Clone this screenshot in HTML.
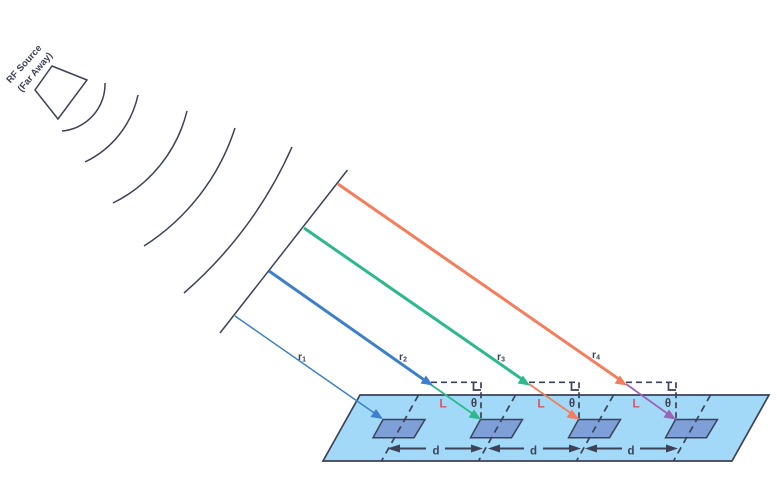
<!DOCTYPE html>
<html>
<head>
<meta charset="utf-8">
<style>
html,body{margin:0;padding:0;background:#fff;width:777px;height:478px;overflow:hidden}
svg{display:block}
text{font-family:"Liberation Sans",sans-serif;fill:#3d4256;font-weight:700}
</style>
</head>
<body>
<svg width="777" height="478" viewBox="0 0 777 478" xmlns="http://www.w3.org/2000/svg">
<!-- plane -->
<polygon points="360,395 769,395 732,461 323,461" fill="#a2d9f8" stroke="#3d4256" stroke-width="1.700"/>
<!-- patches -->
<g fill="#7f9fd9" stroke="#3d4256" stroke-width="1.500">
<polygon points="383,419.500 425,419.500 414,437.700 373,437.700"/>
<polygon points="480.500,419.500 522.500,419.500 511.500,437.700 470.500,437.700"/>
<polygon points="578.500,419.500 620.500,419.500 609.500,437.700 568.500,437.700"/>
<polygon points="675.500,419.500 717.500,419.500 706.500,437.700 665.500,437.700"/>
</g>
<!-- dashed slanted -->
<g stroke="#3d4256" stroke-width="1.700" stroke-dasharray="7 5" fill="none">
<line x1="418.500" y1="395" x2="381.500" y2="461"/>
<line x1="515.500" y1="395" x2="478.500" y2="461"/>
<line x1="613.500" y1="395" x2="576.500" y2="461"/>
<line x1="710.500" y1="395" x2="673.500" y2="461"/>
</g>
<!-- dashed right angles -->
<g stroke="#3d4256" stroke-width="1.700" fill="none">
<g stroke-dasharray="6 4">
<path d="M431,382.300H481V419"/>
<path d="M529,382.300H579V419"/>
<path d="M626,382.300H676V419"/>
</g>
<path d="M473.500,382.300V390H481"/>
<path d="M571.500,382.300V390H579"/>
<path d="M668.500,382.300V390H676"/>
</g>
<!-- source -->
<polygon points="52,66 87,80 58,119 35,90" fill="none" stroke="#3d4256" stroke-width="1.500"/>
<g transform="translate(24,64) rotate(-48)"><text x="0" y="3" font-size="9.500" text-anchor="middle">RF Source</text></g>
<g transform="translate(35,72) rotate(-50)"><text x="0" y="3" font-size="9.500" text-anchor="middle">(Far Away)</text></g>
<!-- arcs -->
<g fill="none" stroke="#3d4256" stroke-width="1.500">
<path d="M105,83A47,47 0 0 1 62,131"/>
<path d="M138,95A97,97 0 0 1 85,162"/>
<path d="M187,111A140,140 0 0 1 113,203"/>
<path d="M235,128A220,220 0 0 1 144,246"/>
<path d="M292,147A420,420 0 0 1 184,293"/>
<line x1="220" y1="333" x2="347.500" y2="170"/>
</g>
<!-- rays -->
<g fill="none">
<line x1="235" y1="316" x2="375" y2="413.500" stroke="#3c80cc" stroke-width="1.500"/>
<line x1="269" y1="271" x2="424" y2="379.800" stroke="#3c80cc" stroke-width="3"/>
<line x1="304" y1="228" x2="523" y2="379.800" stroke="#2cb98b" stroke-width="3"/>
<line x1="338" y1="184" x2="620" y2="379.800" stroke="#f67c5c" stroke-width="3"/>
<line x1="430" y1="384" x2="473" y2="414" stroke="#2cb98b" stroke-width="1.800"/>
<line x1="529" y1="384" x2="572" y2="414" stroke="#f67c5c" stroke-width="1.800"/>
<line x1="626" y1="384" x2="668" y2="414" stroke="#9b62b8" stroke-width="1.800"/>
</g>
<polygon points="383,419 370.500,417 376,409" fill="#3c80cc"/>
<polygon points="433,385.500 420.500,383.500 426,375.500" fill="#3c80cc"/>
<polygon points="530,385.500 517.500,383.500 523,375.500" fill="#2cb98b"/>
<polygon points="627,385.500 614.500,383.500 620,375.500" fill="#f67c5c"/>
<polygon points="481,419.500 468.500,417.500 474,409.500" fill="#2cb98b"/>
<polygon points="579,419.500 566.500,417.500 572,409.500" fill="#f67c5c"/>
<polygon points="676,419.500 663.500,417.500 669,409.500" fill="#9b62b8"/>
<!-- d arrows -->
<g stroke="#3d4256" stroke-width="2">
<line x1="398" y1="448.500" x2="426" y2="448.500"/>
<line x1="445" y1="448.500" x2="472" y2="448.500"/>
<line x1="498" y1="448.500" x2="524" y2="448.500"/>
<line x1="543" y1="448.500" x2="570" y2="448.500"/>
<line x1="595" y1="448.500" x2="622" y2="448.500"/>
<line x1="640" y1="448.500" x2="667" y2="448.500"/>
</g>
<g fill="#3d4256">
<polygon points="387,448.500 400,444.500 400,452.500"/>
<polygon points="483,448.500 471,444.500 471,452.500"/>
<polygon points="488,448.500 500,444.500 500,452.500"/>
<polygon points="581,448.500 569,444.500 569,452.500"/>
<polygon points="585,448.500 597,444.500 597,452.500"/>
<polygon points="678,448.500 666,444.500 666,452.500"/>
</g>
<!-- labels -->
<g font-size="11.500" text-anchor="middle">
<text x="436" y="454.500">d</text>
<text x="533.500" y="454.500">d</text>
<text x="631" y="454.500">d</text>
<text x="474" y="407">θ</text>
<text x="572" y="407">θ</text>
<text x="668" y="407">θ</text>
<text x="443" y="407.500" font-size="12" style="fill:#d9575c">L</text>
<text x="541" y="407.500" font-size="12" style="fill:#d9575c">L</text>
<text x="636" y="407.500" font-size="12" style="fill:#d9575c">L</text>
<text x="302" y="360" font-size="10.500">r<tspan font-size="7" dy="1.500">1</tspan></text>
<text x="403" y="360" font-size="10.500">r<tspan font-size="7" dy="1.500">2</tspan></text>
<text x="501" y="360" font-size="10.500">r<tspan font-size="7" dy="1.500">3</tspan></text>
<text x="596" y="358" font-size="10.500">r<tspan font-size="7" dy="1.500">4</tspan></text>
</g>
</svg>
</body>
</html>
